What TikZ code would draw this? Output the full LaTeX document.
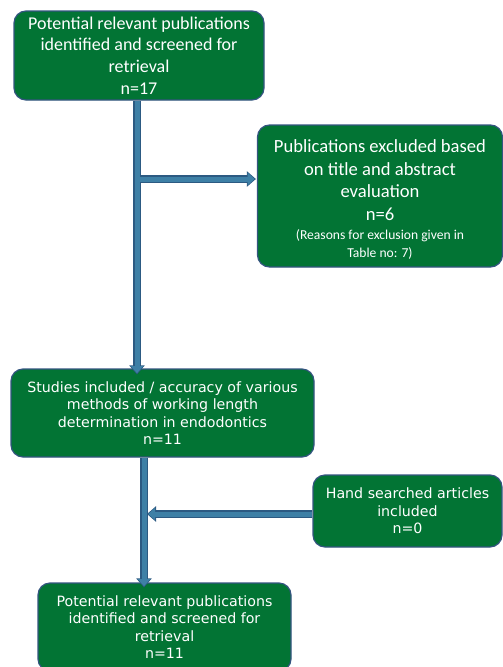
\documentclass[tikz,border=0pt]{standalone}
\usepackage{fontspec}
\setmainfont{Carlito}
\newfontfamily\lowfont{DejaVu Sans}
\usetikzlibrary{arrows.meta}
\definecolor{boxgreen}{RGB}{2,116,52}
\definecolor{boxedge}{RGB}{52,84,128}
\definecolor{arrowfill}{RGB}{62,128,166}
\definecolor{arrowedge}{RGB}{44,90,130}
\tikzset{
  gbox/.style={draw=boxedge, line width=1.2pt, fill=boxgreen, rounded corners=12pt,
    text=white, align=center, inner sep=0pt},
  topfont/.style={font=\fontsize{18}{21.7}\selectfont},
  lowtext/.style={font=\lowfont\fontsize{14.2}{17.6}\selectfont},
  flowout/.style={draw=arrowedge, line width=7.5pt, -{Triangle[width=15pt,length=9pt]}},
  flowin/.style={draw=arrowfill, line width=5pt, shorten >=1.2pt, -{Triangle[width=12pt,length=7pt]}},
}
\newcommand{\smalltxt}{\fontsize{13.6}{16}\selectfont}
\begin{document}
\begin{tikzpicture}[x=1pt,y=-1pt]
\useasboundingbox (0,0) rectangle (503,667);
% boxes
\node[gbox, topfont, minimum width=250, minimum height=89] (b1) at (139,55.5)
  {Potential relevant publications\\ identified and screened for\\ retrieval\\ n=17};
\node[gbox, font=\fontsize{18.6}{22.6}\selectfont, minimum width=245, minimum height=142] (b2) at (380,196)
  {\rule{0pt}{25pt}Publications excluded based\\ on title and abstract\\ evaluation\\ n=6\\[-4pt]
   \begin{tabular}[t]{@{}c@{}}\smalltxt (Reasons for exclusion given in\\[-4pt] \smalltxt Table no: 7)\end{tabular}};
\node[gbox, lowtext, minimum width=303, minimum height=88] (b3) at (162.5,413)
  {Studies included / accuracy of various\\ methods of working length\\ determination in endodontics\\ n=11};
\node[gbox, lowtext, minimum width=189, minimum height=72] (b4) at (407.5,511)
  {Hand searched articles\\ included\\ n=0};
\node[gbox, lowtext, minimum width=253, minimum height=88] (b5) at (164.5,627)
  {Potential relevant publications\\ identified and screened for\\ retrieval\\ n=11};
% junctions
\coordinate (j1) at (137,179);
\coordinate (j2) at (144,514);
% connectors
\foreach \s in {flowout,flowin}{
  \draw[\s] (b1.south -| j1) -- ([yshift=-6pt]b3.north -| j1);
  \draw[\s] ([xshift=1pt]j1) -- ([xshift=-1pt]j1 -| b2.west);
  \draw[\s] (b3.south -| j2) -- ([yshift=-5pt]b5.north -| j2);
  \draw[\s] (b4.west |- j2) -- ([xshift=3pt]j2);
}
\end{tikzpicture}
\end{document}
